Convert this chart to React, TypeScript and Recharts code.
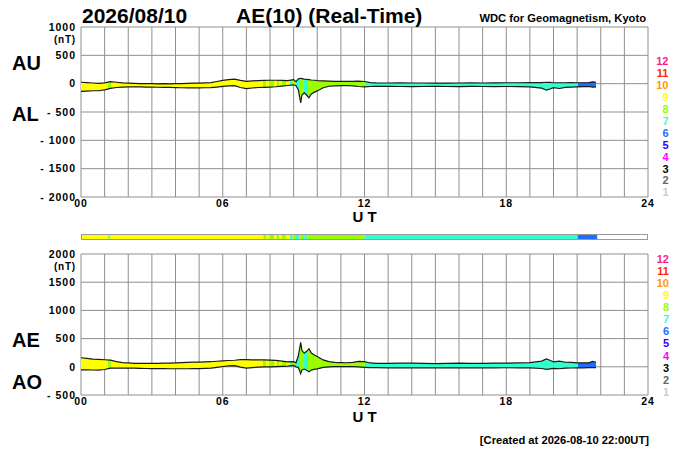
import React from 'react';
import {
  ComposedChart,
  Area,
  Line,
  Bar,
  XAxis,
  YAxis,
  CartesianGrid,
} from 'recharts';

const FONT = '"Liberation Sans", Arial, Helvetica, sans-serif';

// ---- data (hours UT, nT) ----
const TIMES = [
  0, 0.25, 0.5, 0.75, 1, 1.25, 1.5, 1.75, 2, 2.25, 2.5, 2.75, 3, 3.25, 3.5, 3.75,
  4, 4.25, 4.5, 4.75, 5, 5.25, 5.5, 5.75, 6, 6.25, 6.5, 6.75, 7, 7.25, 7.5, 7.75,
  8, 8.25, 8.5, 8.75, 9, 9.1, 9.2, 9.3, 9.35, 9.45, 9.55, 9.65, 9.75, 9.9, 10,
  10.25, 10.5, 10.75, 11, 11.25, 11.5, 11.75, 12, 12.25, 12.5, 13, 13.5, 14, 14.5,
  15, 15.5, 16, 16.5, 17, 17.5, 18, 18.5, 19, 19.5, 19.7, 19.85, 20, 20.25, 20.5,
  20.75, 21, 21.25, 21.5, 21.65, 21.8,
];
const AU = [
  25, 20, 12, 5, 15, 35, 25, 15, 10, 5, 2, 0, 0, -2, 0, -2,
  0, 2, 5, 8, 10, 14, 20, 38, 58, 72, 80, 58, 42, 48, 55, 58,
  60, 60, 58, 55, 72, 35, 85, 95, 90, 80, 75, 70, 65, 60, 55,
  50, 45, 42, 40, 40, 42, 45, 38, 18, 14, 12, 14, 12, 12,
  10, 10, 12, 14, 12, 14, 16, 16, 18, 20, 25, 22, 16, 16, 16,
  18, 16, 16, 20, 32, 25,
];
const AL = [
  -135, -130, -125, -125, -110, -82, -68, -60, -58, -55, -58, -60, -62, -63, -64, -67,
  -70, -72, -74, -74, -73, -72, -70, -60, -48, -40, -36, -68, -86, -76, -68, -64,
  -60, -54, -44, -32, -20, -36, -110, -340, -200, -160, -200, -250, -180, -145, -128,
  -72, -46, -38, -35, -32, -38, -50, -55, -50, -46, -48, -50, -52, -50,
  -48, -50, -52, -48, -50, -52, -50, -52, -55, -80, -115, -95, -70, -85, -65,
  -60, -55, -52, -50, -62, -55,
];

// number of stations contributing (colour code)
const SEG_START = [0, 1.15, 1.25, 7.72, 7.85, 7.97, 8.18, 8.28, 8.39, 8.5, 8.67, 8.85, 8.95, 9.1, 9.25, 9.45, 9.59, 12.0, 21.02];
const SEG_END = [1.15, 1.25, 7.72, 7.85, 7.97, 8.18, 8.28, 8.39, 8.5, 8.67, 8.85, 8.95, 9.1, 9.25, 9.45, 9.59, 12.0, 21.02, 21.85];
const SEG_STATIONS = [9, 8, 9, 8, 9, 8, 9, 8, 9, 8, 9, 7, 8, 7, 8, 7, 8, 7, 6];

const LEGEND_LABELS = ['12', '11', '10', '9', '8', '7', '6', '5', '4', '3', '2', '1'];
const LEGEND_COLORS = ['#ff1a8c', '#ff2a00', '#ff9a00', '#ffff00', '#99ff00', '#33ffcc', '#1e6fff', '#2a00ff', '#ff00ff', '#000000', '#666666', '#cccccc'];

const HOUR_TICKS = Array.from({ length: 25 }, (_, i) => i);
const TOP_TICKS = [-2000, -1500, -1000, -500, 0, 500, 1000];
const BOTTOM_TICKS = [-500, 0, 500, 1000, 1500, 2000];

const colorFor = (n: number) => LEGEND_COLORS[LEGEND_LABELS.indexOf(String(n))];

const topData = TIMES.map((t, i) => ({ t, au: AU[i], al: AL[i], band: [AL[i], AU[i]] }));
const bottomData = TIMES.map((t, i) => {
  const ae = AU[i] - AL[i];
  const ao = (AU[i] + AL[i]) / 2;
  return { t, ae, ao, band: [ao, ae] };
});

// one row for the colour strip: duration of each station-count segment
const stripRow: Record<string, any> = { name: 'stations' };
SEG_START.forEach((s, i) => {
  stripRow[`s${i}`] = SEG_END[i] - s;
});
const stripData = [stripRow];

const gradientStops = () => {
  const t0 = TIMES[0];
  const t1 = TIMES[TIMES.length - 1];
  const out: any[] = [];
  SEG_START.forEach((s, i) => {
    const a = Math.max(0, Math.min(1, (s - t0) / (t1 - t0)));
    const b = Math.max(0, Math.min(1, (SEG_END[i] - t0) / (t1 - t0)));
    const c = colorFor(SEG_STATIONS[i]);
    out.push(<stop key={`a${i}`} offset={a} stopColor={c} />);
    out.push(<stop key={`b${i}`} offset={b} stopColor={c} />);
  });
  return out;
};

const XTick = (props: any) => {
  const { x, y, payload } = props;
  if (payload.value % 6 !== 0) return <g />;
  return (
    <text x={x} y={y + 10} textAnchor="middle" fontSize={10.5} fontWeight="bold" fontFamily={FONT} letterSpacing={1} fill="#000">
      {String(payload.value).padStart(2, '0')}
    </text>
  );
};

const makeYTick = (topValue: number) => (props: any) => {
  const { x, y, payload } = props;
  const v = payload.value as number;
  const label = v < 0 ? `- ${Math.abs(v)}` : String(v);
  return (
    <g>
      <text x={x + 1} y={y} dy="0.36em" textAnchor="end" fontSize={10.5} fontWeight="bold" fontFamily={FONT} letterSpacing={1} fill="#000">
        {label}
      </text>
      {v === topValue && (
        <text x={x + 1} y={y + 12} dy="0.36em" textAnchor="end" fontSize={10} fontWeight="bold" fontFamily={FONT} letterSpacing={0.8} fill="#000">
          (nT)
        </text>
      )}
    </g>
  );
};

const GRID = '#8f8f8f';
const LINE = '#1a1a1a';

export default function App() {
  return (
    <div style={{ position: 'absolute', left: 0, top: 0, width: 700, height: 450, background: '#fff', overflow: 'hidden' }}>
      <div style={{ position: 'absolute', left: 0, top: 0 }}>
        <ComposedChart width={700} height={217} data={topData} margin={{ top: 27, right: 52, bottom: 0, left: 0 }}>
          <defs>
            <linearGradient id="stTop" x1="0" y1="0" x2="1" y2="0">
              {gradientStops()}
            </linearGradient>
          </defs>
          <CartesianGrid stroke={GRID} strokeWidth={1} />
          <XAxis dataKey="t" type="number" domain={[0, 24]} ticks={HOUR_TICKS} interval={0} tick={<XTick />} tickLine={false} axisLine={false} tickSize={0} tickMargin={0} height={20} />
          <YAxis type="number" domain={[-2000, 1000]} ticks={TOP_TICKS} interval={0} tick={makeYTick(1000)} tickLine={false} axisLine={false} tickSize={0} tickMargin={6} width={81} />
          <Area dataKey="band" type="linear" stroke="none" fill="url(#stTop)" fillOpacity={1} isAnimationActive={false} />
          <Line dataKey="au" type="linear" stroke={LINE} strokeWidth={1.2} dot={false} isAnimationActive={false} />
          <Line dataKey="al" type="linear" stroke={LINE} strokeWidth={1.2} dot={false} isAnimationActive={false} />
        </ComposedChart>
      </div>

      <div style={{ position: 'absolute', left: 0, top: 224 }}>
        <ComposedChart layout="vertical" width={700} height={26} data={stripData} margin={{ top: 10, right: 52, bottom: 10, left: 81 }} barCategoryGap={0} barGap={0}>
          <XAxis type="number" domain={[0, 24]} hide />
          <YAxis type="category" dataKey="name" hide />
          {SEG_START.map((s, i) => (
            <Bar key={i} dataKey={`s${i}`} stackId="strip" fill={colorFor(SEG_STATIONS[i])} isAnimationActive={false} />
          ))}
        </ComposedChart>
      </div>
      <div style={{ position: 'absolute', left: 81, top: 234, width: 567, height: 6, boxSizing: 'border-box', border: '1px solid #9a9a9a', pointerEvents: 'none' }} />

      <div style={{ position: 'absolute', left: 0, top: 230 }}>
        <ComposedChart width={700} height={185} data={bottomData} margin={{ top: 24, right: 52, bottom: 0, left: 0 }}>
          <defs>
            <linearGradient id="stBottom" x1="0" y1="0" x2="1" y2="0">
              {gradientStops()}
            </linearGradient>
          </defs>
          <CartesianGrid stroke={GRID} strokeWidth={1} />
          <XAxis dataKey="t" type="number" domain={[0, 24]} ticks={HOUR_TICKS} interval={0} tick={<XTick />} tickLine={false} axisLine={false} tickSize={0} tickMargin={0} height={20} />
          <YAxis type="number" domain={[-500, 2000]} ticks={BOTTOM_TICKS} interval={0} tick={makeYTick(2000)} tickLine={false} axisLine={false} tickSize={0} tickMargin={6} width={81} />
          <Area dataKey="band" type="linear" stroke="none" fill="url(#stBottom)" fillOpacity={1} isAnimationActive={false} />
          <Line dataKey="ae" type="linear" stroke={LINE} strokeWidth={1.2} dot={false} isAnimationActive={false} />
          <Line dataKey="ao" type="linear" stroke={LINE} strokeWidth={1.2} dot={false} isAnimationActive={false} />
        </ComposedChart>
      </div>

      <svg width={700} height={450} style={{ position: 'absolute', left: 0, top: 0, pointerEvents: 'none' }} fontFamily={FONT}>
        <text x={82} y={23} fontSize={21} fontWeight="bold" fill="#000">2026/08/10</text>
        <text x={236} y={23} fontSize={21} fontWeight="bold" fill="#000">AE(10) (Real-Time)</text>
        <text x={646} y={21.5} fontSize={11.2} fontWeight="bold" textAnchor="end" fill="#000">WDC for Geomagnetism, Kyoto</text>

        <text x={12} y={70} fontSize={20} fontWeight="bold" fill="#000">AU</text>
        <text x={12} y={121} fontSize={20} fontWeight="bold" fill="#000">AL</text>
        <text x={12} y={347} fontSize={20} fontWeight="bold" fill="#000">AE</text>
        <text x={12} y={388.5} fontSize={20} fontWeight="bold" fill="#000">AO</text>

        <text x={364.5} y={222} fontSize={15} fontWeight="bold" textAnchor="middle" fill="#000">U T</text>
        <text x={364.5} y={422} fontSize={15} fontWeight="bold" textAnchor="middle" fill="#000">U T</text>

        {LEGEND_LABELS.map((l, i) => (
          <text key={`lt${i}`} x={668.5} y={65.4 + i * 11.9} fontSize={11} fontWeight="bold" textAnchor="end" fill={LEGEND_COLORS[i]}>{l}</text>
        ))}
        {LEGEND_LABELS.map((l, i) => (
          <text key={`lb${i}`} x={669} y={262.5 + i * 12.14} fontSize={11} fontWeight="bold" textAnchor="end" fill={LEGEND_COLORS[i]}>{l}</text>
        ))}

        <text x={649} y={443.5} fontSize={11.2} fontWeight="bold" textAnchor="end" fill="#000">[Created at 2026-08-10 22:00UT]</text>
      </svg>
    </div>
  );
}
